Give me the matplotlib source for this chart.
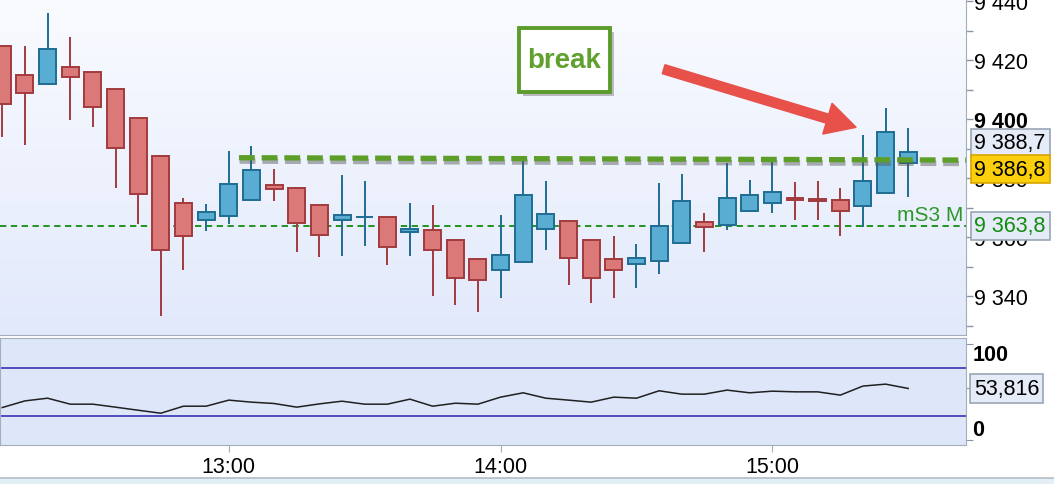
import numpy as np
import pandas as pd
import matplotlib
matplotlib.use('Agg')
import matplotlib.pyplot as plt
import matplotlib.transforms as mtrans
import matplotlib.patheffects as pe
from matplotlib.patches import Rectangle
from matplotlib.lines import Line2D
from matplotlib.colors import LinearSegmentedColormap

plt.rcParams['font.family'] = ['Liberation Sans', 'DejaVu Sans']

# 5 minute candles, 12:10 .. 15:30
times = pd.date_range('2020-01-01 12:10', periods=41, freq='5min')
opens = [9424.6, 9414.8, 9411.8, 9417.5, 9415.8, 9410.1, 9400.2, 9387.4, 9371.4, 9365.7,
         9367.0, 9372.4, 9377.5, 9376.8, 9370.7, 9365.7, 9366.7, 9366.7, 9361.6, 9362.3,
         9358.9, 9352.4, 9349.0, 9351.4, 9362.6, 9365.3, 9358.9, 9352.4, 9350.7, 9351.8,
         9357.9, 9365.0, 9364.2, 9368.7, 9371.4, 9373.2, 9372.8, 9372.4, 9370.4, 9374.8,
         9385.0]
highs = [9424.6, 9424.7, 9435.9, 9427.8, 9415.8, 9410.1, 9400.2, 9387.4, 9373.2, 9371.2,
         9389.2, 9390.8, 9383.1, 9376.8, 9370.7, 9381.0, 9379.0, 9366.7, 9371.5, 9370.8,
         9358.9, 9352.4, 9367.5, 9385.8, 9379.0, 9365.3, 9358.9, 9360.3, 9357.6, 9378.3,
         9381.4, 9368.1, 9385.1, 9379.4, 9385.5, 9378.5, 9379.0, 9376.8, 9394.7, 9403.7,
         9396.9]
lows = [9394.0, 9391.3, 9411.8, 9399.8, 9397.4, 9376.7, 9364.5, 9333.3, 9348.9, 9362.1,
        9364.5, 9372.4, 9372.3, 9355.0, 9353.3, 9353.7, 9357.1, 9350.6, 9353.7, 9340.1,
        9337.1, 9334.7, 9339.4, 9351.4, 9355.7, 9343.8, 9337.7, 9339.4, 9342.8, 9347.6,
        9357.9, 9355.0, 9362.5, 9368.4, 9368.2, 9365.9, 9365.9, 9360.2, 9363.3, 9374.8,
        9373.7]
closes = [9405.0, 9408.7, 9423.6, 9414.1, 9404.0, 9390.1, 9374.5, 9355.5, 9360.2, 9368.4,
          9377.9, 9382.9, 9376.2, 9364.6, 9360.6, 9367.4, 9366.7, 9356.5, 9362.9, 9355.5,
          9346.2, 9345.3, 9353.8, 9374.1, 9367.7, 9352.8, 9346.0, 9349.0, 9352.8, 9363.6,
          9372.1, 9363.4, 9373.2, 9374.1, 9375.2, 9372.6, 9372.1, 9368.7, 9378.9, 9395.5,
          9388.7]
osc = [34.0, 40.9, 43.7, 37.5, 37.5, 34.4, 31.2, 28.1, 35.4, 35.4,
       41.7, 39.6, 38.2, 34.4, 37.8, 40.6, 37.5, 37.5, 42.7, 35.4,
       38.5, 37.5, 44.8, 49.3, 43.7, 41.7, 39.6, 44.8, 43.7, 51.4,
       47.9, 47.9, 52.1, 49.3, 51.0, 50.3, 50.3, 46.9, 56.3, 58.3,
       53.816]
osc_levels = [25, 75]
price_ticks = [9340, 9360, 9380, 9400, 9420, 9440]
break_line = [9386.9, 9386.1]    # drawn trend line, left / right end
break_start = 10.45
s3_level = 9363.8
break_label = 9386.8

W, H = 1054, 485
fig = plt.figure(figsize=(W / 100, H / 100), dpi=100)
fig.patch.set_facecolor('white')


def px_axes(l, t, r, b):
    return fig.add_axes([l / W, 1 - b / H, (r - l) / W, (b - t) / H])


def fmt(v, d=0):
    return f"{v:,.{d}f}".replace(',', ' ').replace('.', ',')


ax = px_axes(0, 0, 966, 336)
ax2 = px_axes(0, 339.3, 966, 446)

# background gradient
grad = LinearSegmentedColormap.from_list('bg', ['#e2e9fb', '#f9fbff'])
ax.imshow(np.linspace(0, 1, 256).reshape(-1, 1), cmap=grad, origin='lower',
          extent=[0, 1, 0, 1], transform=ax.transAxes, aspect='auto', zorder=0)
ax2.set_facecolor('#dee6fa')

x = np.arange(len(times))
o, c = np.array(opens), np.array(closes)
up = c >= o
face = np.where(up, '#5aadd2', '#da7978')
edge = np.where(up, '#1f6d93', '#a23b3e')
ax.vlines(x, lows, highs, colors=edge, lw=1.4, zorder=2)
ax.bar(x, np.abs(c - o), bottom=np.minimum(o, c), width=0.75, color=face,
       edgecolor=edge, lw=1.4, zorder=3)

# S3 level
ax.axhline(s3_level, color='#108c10', lw=1.3, ls=(0, (3.5, 2.5)), zorder=1.5)
blend = mtrans.blended_transform_factory(ax.transAxes, ax.transData)
ax.annotate('mS3 M', (0.997, s3_level), xycoords=blend, xytext=(0, 4),
            textcoords='offset points', ha='right', va='baseline',
            color='#2e962a', fontsize=15, zorder=4)

# drawn break line
ax.plot([break_start, 42.55], break_line, color='#5d9e29', lw=3.8,
        ls=(0, (3, 1.3)), solid_capstyle='butt', zorder=4,
        path_effects=[pe.SimpleLineShadow(offset=(0.5, -2.5), shadow_color='#505050', alpha=0.45),
                      pe.Normal()])

# "break" box + arrow
box = Rectangle((519 / 966, 1 - 93.3 / 336), 91 / 966, 64 / 336, transform=ax.transAxes,
                fc='white', ec='#5e9b2d', lw=2.8, zorder=5,
                path_effects=[pe.SimplePatchShadow(offset=(3, -3), alpha=0.35), pe.Normal()])
ax.add_patch(box)
ax.text((519 + 45.5) / 966, 1 - 61.3 / 336, 'break', transform=ax.transAxes, ha='center',
        va='center', fontsize=20, fontweight='bold', color='#5fa02e', zorder=6)
ax.annotate('', xy=(37.7, 9397.2), xytext=(29.2, 9416.9),
            arrowprops=dict(arrowstyle='simple,head_length=1.35,head_width=1.45,tail_width=0.42',
                            color='#e8504a', shrinkA=0, shrinkB=0, mutation_scale=16,
                            capstyle='round', joinstyle='miter'),
            zorder=6)

ax.set_xlim(-0.1, 42.55)
ax.set_ylim(9326.8, 9440.7)
ax.set_xticks([])
ax.yaxis.tick_right()
ax.set_yticks(price_ticks)
ax.set_yticks(np.arange(9330, 9450, 10), minor=True)
ax.set_yticklabels([fmt(v) for v in price_ticks], fontsize=15.5)
for lab, v in zip(ax.get_yticklabels(), price_ticks):
    if v == 9400:
        lab.set_fontweight('bold')
ax.tick_params(axis='y', which='both', length=5, width=1, color='#8a96a6', pad=0.5)
for s in ['top', 'left']:
    ax.spines[s].set_visible(False)
for s in ['right', 'bottom']:
    ax.spines[s].set_color('#a4aebb')


# price labels at right
def price_box(ax_, y, text, fc, tc, ec, transform, dx=8.5):
    ax_.annotate(text, (1, y), xycoords=transform, xytext=(dx, 0), textcoords='offset pixels',
                 ha='left', va='center', fontsize=15.5, color=tc, zorder=7,
                 annotation_clip=False,
                 bbox=dict(boxstyle='square,pad=0.17', fc=fc, ec=ec, lw=1.2))


price_box(ax, closes[-1] + 3.3, fmt(closes[-1], 1), '#e6ecf7', 'black', '#9aa6b4', blend)
price_box(ax, break_label - 3.8, fmt(break_label, 1), '#fbcf0c', 'black', '#d9a400', blend)
price_box(ax, s3_level, fmt(s3_level, 1), '#e6ecf7', '#118c11', '#9aa6b4', blend)

# oscillator panel
ax2.plot(x, osc, color='#202020', lw=1.1, zorder=3)
for lv in osc_levels:
    ax2.axhline(lv, color='#3434b4', lw=1.2, zorder=2)
ax2.set_xlim(-0.1, 42.55)
ax2.set_ylim(-4.9, 105.9)
ax2.yaxis.tick_right()
ax2.set_yticks([0, 100, osc[-1]])
ax2.set_yticklabels([])
ax2.tick_params(axis='y', length=5, color='#8a96a6')
blend2 = mtrans.blended_transform_factory(ax2.transAxes, ax2.transData)
ax2.text(1.0065, 100, '100', transform=blend2, ha='left', va='top', fontsize=15.5, fontweight='bold')
ax2.text(1.0065, 0, '0', transform=blend2, ha='left', va='bottom', fontsize=15.5, fontweight='bold')
price_box(ax2, osc[-1], fmt(osc[-1], 3), '#e6ecf7', 'black', '#9aa6b4', blend2, dx=8)
hour_idx = [i for i, t in enumerate(times) if t.minute == 0]
ax2.set_xticks(hour_idx)
ax2.set_xticklabels([times[i].strftime('%H:%M') for i in hour_idx], fontsize=15.5)
ax2.tick_params(axis='x', length=5, color='#a4aebb', pad=3)
for s in ax2.spines.values():
    s.set_color('#a4aebb')

# bottom strip
fig.add_artist(Rectangle((0, 0), 1, 5.7 / H, transform=fig.transFigure, fc='#e2eff6', ec='none'))
fig.add_artist(Line2D([0, 1], [5.7 / H, 5.7 / H], transform=fig.transFigure, color='#b4bcc4', lw=1.2))

fig.savefig('out.png', dpi=100)
